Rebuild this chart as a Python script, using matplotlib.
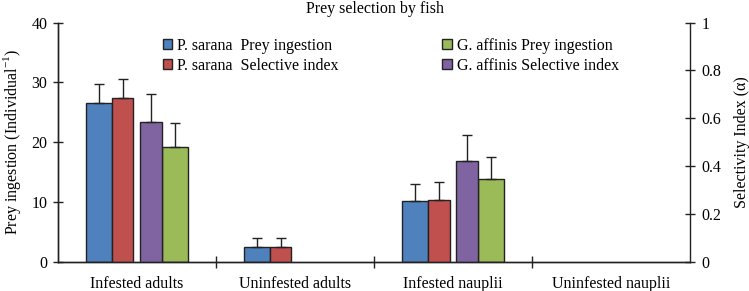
import matplotlib
matplotlib.use("Agg")
import matplotlib.pyplot as plt
import numpy as np
from matplotlib.patches import Patch

plt.rcParams["font.family"] = ["Liberation Serif", "DejaVu Serif"]

categories = ["Infested adults", "Uninfested adults", "Infested nauplii", "Uninfested nauplii"]

# prey ingestion (individual^-1), left axis
ps_ingest = [26.6, 2.4, 10.2, np.nan]
ps_ingest_err = [3.1, 1.5, 2.8, np.nan]
ga_ingest = [19.2, np.nan, 13.9, np.nan]
ga_ingest_err = [4.0, np.nan, 3.7, np.nan]

# selectivity index (alpha), right axis
ps_index = [0.683, 0.0625, 0.26, np.nan]
ps_index_err = [0.08, 0.038, 0.072, np.nan]
ga_index = [0.583, np.nan, 0.421, np.nan]
ga_index_err = [0.12, np.nan, 0.11, np.nan]

BLUE, RED, PURPLE, GREEN = "#4F81BD", "#C0504D", "#8064A2", "#9BBB59"
EDGE = "#222222"
FS = 11.5

fig = plt.figure(figsize=(7.49, 2.91), dpi=100)
ax = fig.add_axes([0.0774, 0.1007, 0.8438, 0.8213])
ax2 = ax.twinx()

x = np.arange(len(categories))

def draw(a, left, width, vals, errs, color):
    a.bar(x + left, vals, width, align="edge", color=color, edgecolor=EDGE, lw=1, zorder=2)
    ok = ~np.isnan(np.asarray(vals, dtype=float))
    xc = (x + left + width / 2)[ok]
    v = np.asarray(vals)[ok]
    e = np.asarray(errs)[ok]
    a.errorbar(xc, v, yerr=[np.zeros_like(e), e], fmt="none", ecolor=EDGE,
               elinewidth=1, capsize=3.5, capthick=1, zorder=3)

draw(ax, -0.323, 0.165, ps_ingest, ps_ingest_err, BLUE)
draw(ax, 0.160, 0.165, ga_ingest, ga_ingest_err, GREEN)
draw(ax2, -0.161, 0.139, ps_index, ps_index_err, RED)
draw(ax2, 0.021, 0.139, ga_index, ga_index_err, PURPLE)

ax.set_xlim(-0.5, 3.5)
ax.set_ylim(0, 40)
ax2.set_ylim(0, 1)
ax.set_yticks([0, 10, 20, 30, 40])
ax2.set_yticks([0, 0.2, 0.4, 0.6, 0.8, 1])
ax2.set_yticklabels(["0", "0.2", "0.4", "0.6", "0.8", "1"])

ax.set_xticks([0.5, 1.5, 2.5])
ax.set_xticklabels([])
ax.set_xticks(x, minor=True)
ax.set_xticklabels(categories, minor=True)
ax.tick_params(axis="x", which="major", direction="inout", length=8, width=1, color=EDGE)
ax.tick_params(axis="x", which="minor", length=0, pad=10, labelsize=FS)
ax.tick_params(axis="y", direction="inout", length=7, width=1, color=EDGE, pad=4, labelsize=FS)
ax2.tick_params(axis="y", direction="inout", length=7, width=1, color=EDGE, pad=5, labelsize=FS)

for a in (ax, ax2):
    a.spines["top"].set_visible(False)
    for s in ("left", "right", "bottom"):
        a.spines[s].set_color(EDGE)
        a.spines[s].set_linewidth(1)
ax.spines["right"].set_visible(False)

ax.set_ylabel("Prey ingestion (Individual$^{\\mathregular{-1}}$)", fontsize=FS, labelpad=6)
ax2.set_ylabel("Selectivity Index (\u03b1)", fontsize=FS, labelpad=9)

fig.text(0.5, 0.968, "Prey selection by fish", ha="center", va="center", fontsize=FS)

handles = [Patch(facecolor=BLUE, edgecolor=EDGE), Patch(facecolor=RED, edgecolor=EDGE),
           Patch(facecolor=GREEN, edgecolor=EDGE), Patch(facecolor=PURPLE, edgecolor=EDGE)]
labels = ["P. sarana  Prey ingestion", "P. sarana  Selective index",
          "G. affinis Prey ingestion", "G. affinis Selective index"]
ax2.legend(handles, labels, ncol=2, loc="upper left", bbox_to_anchor=(0.153, 0.97),
           frameon=False, fontsize=FS, handlelength=0.6, handleheight=0.6,
           handletextpad=0.3, columnspacing=6.5, labelspacing=0.25, borderpad=0)

fig.savefig("out.png", dpi=100)
